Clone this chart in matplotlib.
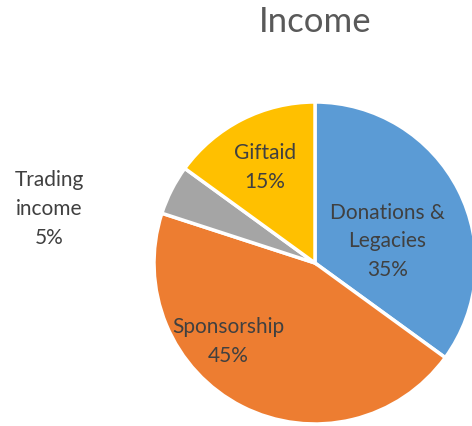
import matplotlib
matplotlib.use('Agg')
import matplotlib.pyplot as plt

categories = ['Donations &\nLegacies', 'Sponsorship', 'Trading\nincome', 'Giftaid']
shares = [35, 45, 5, 15]
colors = ['#5B9BD5', '#ED7D31', '#A5A5A5', '#FFC000']
# label centres in pie-radius units, relative to the pie centre
label_xy = [(0.45, 0.14), (-0.54, -0.48), (-1.65, 0.34), (-0.31, 0.60)]

plt.rcParams['font.family'] = ['Lato', 'DejaVu Sans']

fig = plt.figure(figsize=(4.72, 4.27), dpi=100)
W, H = 472, 427
cx, cy, r = 315, 264, 161
ax = fig.add_axes([(cx - r) / W, (H - cy - r) / H, 2 * r / W, 2 * r / H])

wedges, _ = ax.pie(shares, colors=colors, startangle=90, counterclock=False,
                   radius=1, wedgeprops={'edgecolor': 'white', 'linewidth': 2.5})
for w in wedges:
    w.set_clip_on(False)

for name, share, (x, y) in zip(categories, shares, label_xy):
    ax.text(x, y, f'{name}\n{share}%', ha='center', va='center',
            fontsize=15, color='#404040', linespacing=1.55)

ax.set_xlim(-1, 1)
ax.set_ylim(-1, 1)
ax.set_aspect('equal')
ax.axis('off')

fig.text(cx / W, 1 - 22 / H, 'Income', ha='center', va='center',
         fontsize=25, color='#595959')

fig.savefig('out.png', dpi=100)
